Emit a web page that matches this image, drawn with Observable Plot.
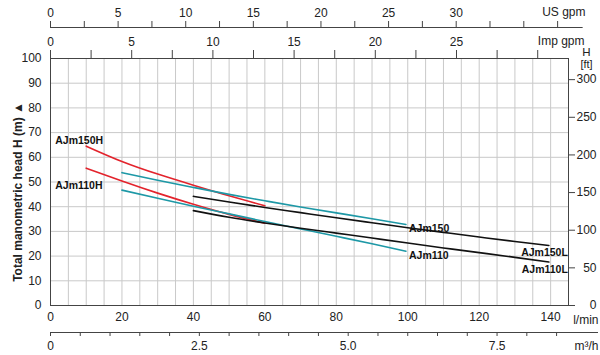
<!DOCTYPE html>
<html><head><meta charset="utf-8">
<script src="https://cdn.jsdelivr.net/npm/d3@7"></script>
<script src="https://cdn.jsdelivr.net/npm/@observablehq/plot@0.6"></script>
<style>html,body{margin:0;padding:0;background:#fff;}</style>
</head><body><div id="chart"></div>
<script>
// Curve data: flow Q (l/min) and head H (m)
const names = ["AJm150H", "AJm110H", "AJm150", "AJm110", "AJm150L", "AJm110L"];
const colors = ["#e3232c", "#e3232c", "#1d98a6", "#1d98a6", "#111111", "#111111"];
const qAJm150H = [10, 20, 30, 40, 50, 60];
const hAJm150H = [64.5, 58.3, 53.2, 48.7, 44.4, 40.4];
const qAJm110H = [10, 20, 30, 40, 50, 60];
const hAJm110H = [55.6, 50.4, 45.5, 41.0, 36.9, 33.3];
const qAJm150 = [20, 30, 40, 50, 60, 70, 80, 90, 99.5];
const hAJm150 = [53.8, 50.7, 47.8, 45.0, 42.4, 39.9, 37.5, 35.1, 32.8];
const qAJm110 = [20, 30, 40, 50, 60, 70, 80, 90, 99.5];
const hAJm110 = [46.7, 43.4, 40.2, 37.1, 34.0, 31.0, 28.0, 25.0, 22.0];
const qAJm150L = [40, 50, 60, 70, 80, 90, 100, 110, 120, 130, 139.5];
const hAJm150L = [44.2, 41.9, 39.7, 37.6, 35.5, 33.5, 31.5, 29.6, 27.7, 25.9, 24.3];
const qAJm110L = [40, 50, 60, 70, 80, 90, 100, 110, 120, 130, 139.5];
const hAJm110L = [38.4, 35.7, 33.4, 31.3, 29.3, 27.3, 25.3, 23.3, 21.4, 19.5, 17.6];

// Tick labels
const lpmTicks = [0, 20, 40, 60, 80, 100, 120, 140];
const hTicks = [0, 10, 20, 30, 40, 50, 60, 70, 80, 90, 100];
const ftTicks = [0, 50, 100, 150, 200, 250, 300];
const usGpmTicks = [0, 2.5, 5, 7.5, 10, 12.5, 15, 17.5, 20, 22.5, 25, 27.5, 30, 32.5, 35, 37.5];
const usGpmLabels = [0, 5, 10, 15, 20, 25, 30];
const impGpmTicks = [0, 2.5, 5, 7.5, 10, 12.5, 15, 17.5, 20, 22.5, 25, 27.5, 30];
const impGpmLabels = [0, 5, 10, 15, 20, 25];
const m3hTicks = [0, 0.5, 1, 1.5, 2, 2.5, 3, 3.5, 4, 4.5, 5, 5.5, 6, 6.5, 7, 7.5, 8, 8.5];
const m3hLabels = ["0", "2.5", "5.0", "7.5"];
const gridQ = d3.range(0, 146, 5);
const gridH = hTicks;

// unit conversions
const US = 3.785411784, IMP = 4.54609, M3H = 1000 / 60, FT = 0.3048;

const Qs = [qAJm150H, qAJm110H, qAJm150, qAJm110, qAJm150L, qAJm110L];
const Hs = [hAJm150H, hAJm110H, hAJm150, hAJm110, hAJm150L, hAJm110L];
const rows = names.flatMap((n, i) => Qs[i].map((q, j) => ({name: n, q, h: Hs[i][j]})));
const first = n => rows.filter(r => r.name === n)[0];
const last = n => { const a = rows.filter(r => r.name === n); return a[a.length - 1]; };

const lbl = {fontWeight: "bold", fontSize: 10.5, fill: "#111"};
const near = (v, arr) => arr.some(a => Math.abs(a - v) < 1e-6);
const unit = {text: d => d, lineAnchor: "middle"};

const chart = Plot.plot({
  width: 600, height: 355,
  marginLeft: 50, marginRight: 32, marginTop: 58, marginBottom: 50,
  x: {domain: [0, 145], axis: null, label: null},
  y: {domain: [0, 100], axis: null, label: null},
  color: {domain: names, range: colors},
  style: {fontFamily: "'Liberation Sans', Arial, sans-serif", fontSize: "12px", background: "#fff", color: "#222", overflow: "visible"},
  marks: [
    Plot.gridX(gridQ, {stroke: "#c9c9c9", strokeOpacity: 1}),
    Plot.gridY(gridH, {stroke: "#c9c9c9", strokeOpacity: 1}),
    Plot.frame({stroke: "#444"}),
    // left m axis
    Plot.axisY(hTicks, {anchor: "left", tickSize: 0, tickPadding: 9, label: null}),
    // right ft axis
    Plot.axisY(ftTicks.map(f => f * FT), {anchor: "right", tickSize: 6, tickPadding: 22, textAnchor: "end", label: null,
      tickFormat: d => String(Math.round(d / FT)), stroke: "#444"}),
    // bottom l/min axis
    Plot.axisX(lpmTicks, {anchor: "bottom", tickSize: 0, tickPadding: 7, label: null}),
    // bottom m3/h axis
    Plot.ruleY([0], {x1: 0, x2: 153.4, dy: 27, stroke: "#444"}),
    Plot.axisX(m3hTicks.map(v => v * M3H), {anchor: "bottom", dy: 27, tickSize: 4, tickPadding: 5, stroke: "#444", label: null,
      tickFormat: d => { const v = Math.round(d / M3H * 10) / 10; const k = [0, 2.5, 5, 7.5].findIndex(a => Math.abs(a - v) < 1e-6); return k >= 0 ? m3hLabels[k] : ""; }}),
    // top Imp gpm axis (on frame)
    Plot.axisX(impGpmTicks.map(v => v * IMP), {anchor: "top", tickSize: 9, tickPadding: 4, stroke: "#444", label: null,
      tickFormat: d => { const v = Math.round(d / IMP * 10) / 10; return near(v, impGpmLabels) ? String(v) : ""; }}),
    // top US gpm axis
    Plot.ruleY([100], {x1: 0, x2: 149.1, dy: -31, stroke: "#444"}),
    Plot.axisX(usGpmTicks.map(v => v * US), {anchor: "top", dy: -31, tickSize: 7, tickPadding: 4, stroke: "#444", label: null,
      tickFormat: d => { const v = Math.round(d / US * 10) / 10; return near(v, usGpmLabels) ? String(v) : ""; }}),
    // unit labels
    Plot.text(["US gpm"], {frameAnchor: "top-right", ...unit, textAnchor: "end", dx: 17, dy: -46}),
    Plot.text(["Imp gpm"], {frameAnchor: "top-right", ...unit, textAnchor: "end", dx: 16, dy: -17}),
    Plot.text(["H"], {frameAnchor: "top-right", ...unit, textAnchor: "middle", dx: 18, dy: -6, fontSize: 11.5}),
    Plot.text(["[ft]"], {frameAnchor: "top-right", ...unit, textAnchor: "middle", dx: 18, dy: 6, fontSize: 11}),
    Plot.text(["l/min"], {frameAnchor: "bottom-right", ...unit, textAnchor: "end", dx: 30, dy: 15}),
    Plot.text(["m³/h"], {frameAnchor: "bottom-right", ...unit, textAnchor: "end", dx: 30, dy: 41}),
    // y title
    Plot.text(["Total manometric head H (m) \u25B2"], {frameAnchor: "left", text: d => d, textAnchor: "middle", rotate: -90, dx: -32, dy: 10, fontWeight: "bold", fontSize: 12}),
    // curves
    Plot.line(rows, {x: "q", y: "h", z: "name", stroke: "name", curve: "natural", strokeWidth: 1.6}),
    // curve labels
    Plot.text([first("AJm150H")], {x: "q", y: "h", text: "name", textAnchor: "start", dx: -31, dy: -6, ...lbl}),
    Plot.text([first("AJm110H")], {x: "q", y: "h", text: "name", textAnchor: "start", dx: -31, dy: 17, ...lbl}),
    Plot.text([last("AJm150")], {x: "q", y: "h", text: "name", textAnchor: "start", dx: 3, dy: 4, ...lbl}),
    Plot.text([last("AJm110")], {x: "q", y: "h", text: "name", textAnchor: "start", dx: 3, dy: 4, ...lbl}),
    Plot.text([last("AJm150L")], {x: "q", y: "h", text: "name", textAnchor: "end", dx: 19, dy: 7, ...lbl}),
    Plot.text([last("AJm110L")], {x: "q", y: "h", text: "name", textAnchor: "end", dx: 19, dy: 8, ...lbl})
  ]
});
document.getElementById("chart").appendChild(chart);
</script>
</body></html>
